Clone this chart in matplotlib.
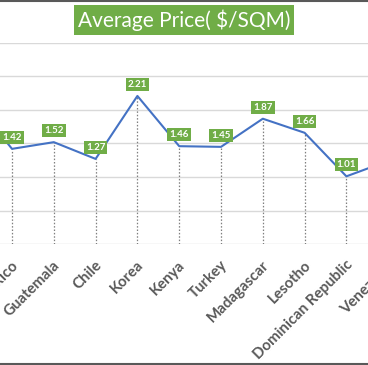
import matplotlib
matplotlib.use("Agg")
import matplotlib.pyplot as plt
from matplotlib.lines import Line2D

# Data (first category is off-canvas to the left; only its line segment is visible)
countries = ["", "Mexico", "Guatemala", "Chile", "Korea", "Kenya", "Turkey",
             "Madagascar", "Lesotho", "Dominican Republic", "Venezuela"]
prices = [2.20, 1.42, 1.52, 1.27, 2.21, 1.46, 1.45, 1.87, 1.66, 1.01, 1.24]
title = "Average Price( $/SQM)"

GREEN = "#70AD47"
BLUE = "#4472C4"
GRAY_TXT = "#595959"

W, H = 368, 365
fig = plt.figure(figsize=(W / 100, H / 100), dpi=100)
fig.patch.set_facecolor("white")

# axes placement: y=0 at 244px, y=3 at 43px from top
bottom = (H - 244) / H
top = (H - 43) / H
ax = fig.add_axes([0, bottom, 1, top - bottom])

x = list(range(len(countries)))
step = 41.8
mex_px = 12

ax.set_yticks([0, 0.5, 1, 1.5, 2, 2.5, 3])
ax.yaxis.grid(True, color="#D9D9D9", linewidth=1)
ax.set_axisbelow(True)
for s in ax.spines.values():
    s.set_visible(False)
ax.tick_params(axis="y", length=0, labelleft=False)
ax.set_xticks(x)
ax.tick_params(axis="x", length=0, labelbottom=False)

# category labels (drawn as text so partially visible ones also show)
for xi, name in zip(x, countries):
    ax.annotate(name, (xi, 0), xycoords=ax.get_xaxis_transform(),
                xytext=(-1, -14), textcoords="offset pixels",
                rotation=45, ha="right", va="top", rotation_mode="anchor",
                fontfamily="Lato", fontweight="bold", fontsize=10.8,
                color=GRAY_TXT, annotation_clip=False)

# drop lines
ax.vlines(x, 0, prices, colors="#7F7F7F", linestyles=(0, (1.2, 1.5)),
          linewidth=0.9, zorder=2)

ax.plot(x, prices, color=BLUE, linewidth=1.5, zorder=3)

for xi, v in zip(x, prices):
    ax.annotate(f"{v:.2f}", (xi, v), xytext=(0, 7), textcoords="offset pixels",
                ha="center", va="bottom", fontsize=7, fontweight="bold",
                fontfamily="Lato", color="white", zorder=5,
                bbox=dict(boxstyle="square,pad=0.22", fc=GREEN, ec="none"),
                annotation_clip=True)

ax.set_xlim(1 - mex_px / step, 1 + (W - mex_px) / step)
ax.set_ylim(0, 3)

fig.text(0.5 * (73 + 295) / W, 1 - 20 / H, title, ha="center", va="center",
         fontsize=15, fontfamily="Lato", color="white",
         bbox=dict(boxstyle="square,pad=0.2", fc=GREEN, ec="none"))

# outer chart border (top and bottom visible)
fig.add_artist(Line2D([0, 1], [1 - 0.5 / H, 1 - 0.5 / H], color="#595959", linewidth=1.5))
fig.add_artist(Line2D([0, 1], [1.5 / H, 1.5 / H], color="#595959", linewidth=1.5))

fig.savefig("out.png", dpi=100, facecolor="white")
